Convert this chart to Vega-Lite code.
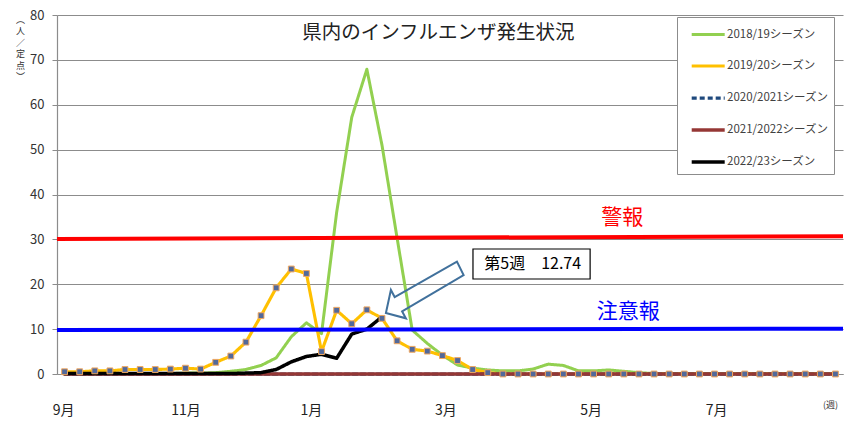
{
  "$schema": "https://vega.github.io/schema/vega-lite/v6.json",
  "width": 786,
  "height": 359,
  "autosize": {"type": "none"},
  "padding": {"left": 57, "top": 15, "right": 15, "bottom": 55},
  "background": "white",
  "datasets": {
    "series": [
      {"week": 1, "2018/19シーズン": 0.1, "2019/20シーズン": 0.5, "2020/2021シーズン": 0, "2021/2022シーズン": 0, "2022/23シーズン": 0.1},
      {"week": 2, "2018/19シーズン": 0.1, "2019/20シーズン": 0.5, "2020/2021シーズン": 0, "2021/2022シーズン": 0, "2022/23シーズン": 0.1},
      {"week": 3, "2018/19シーズン": 0.1, "2019/20シーズン": 0.7, "2020/2021シーズン": 0, "2021/2022シーズン": 0, "2022/23シーズン": 0.1},
      {"week": 4, "2018/19シーズン": 0.1, "2019/20シーズン": 0.7, "2020/2021シーズン": 0, "2021/2022シーズン": 0, "2022/23シーズン": 0.1},
      {"week": 5, "2018/19シーズン": 0.1, "2019/20シーズン": 1.0, "2020/2021シーズン": 0, "2021/2022シーズン": 0, "2022/23シーズン": 0.1},
      {"week": 6, "2018/19シーズン": 0.1, "2019/20シーズン": 1.0, "2020/2021シーズン": 0, "2021/2022シーズン": 0, "2022/23シーズン": 0.1},
      {"week": 7, "2018/19シーズン": 0.1, "2019/20シーズン": 1.0, "2020/2021シーズン": 0, "2021/2022シーズン": 0, "2022/23シーズン": 0.1},
      {"week": 8, "2018/19シーズン": 0.1, "2019/20シーズン": 1.1, "2020/2021シーズン": 0, "2021/2022シーズン": 0, "2022/23シーズン": 0.1},
      {"week": 9, "2018/19シーズン": 0.2, "2019/20シーズン": 1.3, "2020/2021シーズン": 0, "2021/2022シーズン": 0, "2022/23シーズン": 0.1},
      {"week": 10, "2018/19シーズン": 0.2, "2019/20シーズン": 1.1, "2020/2021シーズン": 0, "2021/2022シーズン": 0, "2022/23シーズン": 0.1},
      {"week": 11, "2018/19シーズン": 0.3, "2019/20シーズン": 2.6, "2020/2021シーズン": 0, "2021/2022シーズン": 0, "2022/23シーズン": 0.1},
      {"week": 12, "2018/19シーズン": 0.6, "2019/20シーズン": 4.0, "2020/2021シーズン": 0, "2021/2022シーズン": 0, "2022/23シーズン": 0.1},
      {"week": 13, "2018/19シーズン": 1.0, "2019/20シーズン": 7.1, "2020/2021シーズン": 0, "2021/2022シーズン": 0, "2022/23シーズン": 0.2},
      {"week": 14, "2018/19シーズン": 1.9, "2019/20シーズン": 13.0, "2020/2021シーズン": 0, "2021/2022シーズン": 0, "2022/23シーズン": 0.3},
      {"week": 15, "2018/19シーズン": 3.6, "2019/20シーズン": 19.2, "2020/2021シーズン": 0, "2021/2022シーズン": 0, "2022/23シーズン": 1.0},
      {"week": 16, "2018/19シーズン": 8.3, "2019/20シーズン": 23.4, "2020/2021シーズン": 0, "2021/2022シーズン": 0, "2022/23シーズン": 2.7},
      {"week": 17, "2018/19シーズン": 11.4, "2019/20シーズン": 22.4, "2020/2021シーズン": 0, "2021/2022シーズン": 0, "2022/23シーズン": 3.9},
      {"week": 18, "2018/19シーズン": 9.0, "2019/20シーズン": 5.0, "2020/2021シーズン": 0, "2021/2022シーズン": 0, "2022/23シーズン": 4.4},
      {"week": 19, "2018/19シーズン": 36.0, "2019/20シーズン": 14.2, "2020/2021シーズン": 0, "2021/2022シーズン": 0, "2022/23シーズン": 3.5},
      {"week": 20, "2018/19シーズン": 57.2, "2019/20シーズン": 11.2, "2020/2021シーズン": 0, "2021/2022シーズン": 0, "2022/23シーズン": 8.9},
      {"week": 21, "2018/19シーズン": 67.9, "2019/20シーズン": 14.3, "2020/2021シーズン": 0, "2021/2022シーズン": 0, "2022/23シーズン": 10.0},
      {"week": 22, "2018/19シーズン": 51.0, "2019/20シーズン": 12.4, "2020/2021シーズン": 0, "2021/2022シーズン": 0, "2022/23シーズン": 12.74},
      {"week": 23, "2018/19シーズン": 30.3, "2019/20シーズン": 7.4, "2020/2021シーズン": 0, "2021/2022シーズン": 0, "2022/23シーズン": null},
      {"week": 24, "2018/19シーズン": 9.8, "2019/20シーズン": 5.5, "2020/2021シーズン": 0, "2021/2022シーズン": 0, "2022/23シーズン": null},
      {"week": 25, "2018/19シーズン": 6.8, "2019/20シーズン": 5.1, "2020/2021シーズン": 0, "2021/2022シーズン": 0, "2022/23シーズン": null},
      {"week": 26, "2018/19シーズン": 4.2, "2019/20シーズン": 4.1, "2020/2021シーズン": 0, "2021/2022シーズン": 0, "2022/23シーズン": null},
      {"week": 27, "2018/19シーズン": 2.0, "2019/20シーズン": 3.0, "2020/2021シーズン": 0, "2021/2022シーズン": 0, "2022/23シーズン": null},
      {"week": 28, "2018/19シーズン": 1.3, "2019/20シーズン": 1.0, "2020/2021シーズン": 0, "2021/2022シーズン": 0, "2022/23シーズン": null},
      {"week": 29, "2018/19シーズン": 0.9, "2019/20シーズン": 0.3, "2020/2021シーズン": 0, "2021/2022シーズン": 0, "2022/23シーズン": null},
      {"week": 30, "2018/19シーズン": 0.7, "2019/20シーズン": 0, "2020/2021シーズン": 0, "2021/2022シーズン": 0, "2022/23シーズン": null},
      {"week": 31, "2018/19シーズン": 0.7, "2019/20シーズン": 0, "2020/2021シーズン": 0, "2021/2022シーズン": 0, "2022/23シーズン": null},
      {"week": 32, "2018/19シーズン": 1.1, "2019/20シーズン": 0, "2020/2021シーズン": 0, "2021/2022シーズン": 0, "2022/23シーズン": null},
      {"week": 33, "2018/19シーズン": 2.2, "2019/20シーズン": 0, "2020/2021シーズン": 0, "2021/2022シーズン": 0, "2022/23シーズン": null},
      {"week": 34, "2018/19シーズン": 1.9, "2019/20シーズン": 0, "2020/2021シーズン": 0, "2021/2022シーズン": 0, "2022/23シーズン": null},
      {"week": 35, "2018/19シーズン": 0.7, "2019/20シーズン": 0, "2020/2021シーズン": 0, "2021/2022シーズン": 0, "2022/23シーズン": null},
      {"week": 36, "2018/19シーズン": 0.7, "2019/20シーズン": 0, "2020/2021シーズン": 0, "2021/2022シーズン": 0, "2022/23シーズン": null},
      {"week": 37, "2018/19シーズン": 0.9, "2019/20シーズン": 0, "2020/2021シーズン": 0, "2021/2022シーズン": 0, "2022/23シーズン": null},
      {"week": 38, "2018/19シーズン": 0.6, "2019/20シーズン": 0, "2020/2021シーズン": 0, "2021/2022シーズン": 0, "2022/23シーズン": null},
      {"week": 39, "2018/19シーズン": 0.3, "2019/20シーズン": 0, "2020/2021シーズン": 0, "2021/2022シーズン": 0, "2022/23シーズン": null},
      {"week": 40, "2018/19シーズン": 0.1, "2019/20シーズン": 0, "2020/2021シーズン": 0, "2021/2022シーズン": 0, "2022/23シーズン": null},
      {"week": 41, "2018/19シーズン": 0.1, "2019/20シーズン": 0, "2020/2021シーズン": 0, "2021/2022シーズン": 0, "2022/23シーズン": null},
      {"week": 42, "2018/19シーズン": 0.1, "2019/20シーズン": 0, "2020/2021シーズン": 0, "2021/2022シーズン": 0, "2022/23シーズン": null},
      {"week": 43, "2018/19シーズン": 0.1, "2019/20シーズン": 0, "2020/2021シーズン": 0, "2021/2022シーズン": 0, "2022/23シーズン": null},
      {"week": 44, "2018/19シーズン": 0.1, "2019/20シーズン": 0, "2020/2021シーズン": 0, "2021/2022シーズン": 0, "2022/23シーズン": null},
      {"week": 45, "2018/19シーズン": 0.1, "2019/20シーズン": 0, "2020/2021シーズン": 0, "2021/2022シーズン": 0, "2022/23シーズン": null},
      {"week": 46, "2018/19シーズン": 0.1, "2019/20シーズン": 0, "2020/2021シーズン": 0, "2021/2022シーズン": 0, "2022/23シーズン": null},
      {"week": 47, "2018/19シーズン": 0.1, "2019/20シーズン": 0, "2020/2021シーズン": 0, "2021/2022シーズン": 0, "2022/23シーズン": null},
      {"week": 48, "2018/19シーズン": 0.1, "2019/20シーズン": 0, "2020/2021シーズン": 0, "2021/2022シーズン": 0, "2022/23シーズン": null},
      {"week": 49, "2018/19シーズン": 0.1, "2019/20シーズン": 0, "2020/2021シーズン": 0, "2021/2022シーズン": 0, "2022/23シーズン": null},
      {"week": 50, "2018/19シーズン": 0.1, "2019/20シーズン": 0, "2020/2021シーズン": 0, "2021/2022シーズン": 0, "2022/23シーズン": null},
      {"week": 51, "2018/19シーズン": 0.1, "2019/20シーズン": 0, "2020/2021シーズン": 0, "2021/2022シーズン": 0, "2022/23シーズン": null},
      {"week": 52, "2018/19シーズン": 0.1, "2019/20シーズン": 0, "2020/2021シーズン": 0, "2021/2022シーズン": 0, "2022/23シーズン": null}
    ],
    "levels": [
      {"name": "警報", "week": 0.5, "week2": 52.5, "value": 30.1, "value2": 30.7},
      {"name": "注意報", "week": 0.5, "week2": 52.5, "value": 9.8, "value2": 10.1}
    ],
    "notes": [
      {"kind": "警報", "week": 37.9, "value": 34.7, "label": "警報"},
      {"kind": "注意報", "week": 38.3, "value": 13.9, "label": "注意報"},
      {"kind": "callout", "week": 31.97, "value": 24.5, "label": "第5週　12.74"},
      {"kind": "title", "week": 25.73, "value": 76.1, "label": "県内のインフルエンザ発生状況"}
    ],
    "arrow": [
      {"i": 1, "week": 22.26, "value": 13.6},
      {"i": 2, "week": 22.59, "value": 18.72},
      {"i": 3, "week": 22.84, "value": 17.14},
      {"i": 4, "week": 26.96, "value": 25.03},
      {"i": 5, "week": 27.40, "value": 22.06},
      {"i": 6, "week": 23.33, "value": 13.97},
      {"i": 7, "week": 23.58, "value": 12.41}
    ],
    "box": [
      {"week": 28.02, "week2": 35.77, "value": 27.86, "value2": 21.17}
    ]
  },
  "config": {
    "view": {"stroke": null},
    "font": "Noto Sans CJK JP",
    "axis": {"labelFont": "Noto Sans CJK JP", "titleFont": "Noto Sans CJK JP"}
  },
  "encoding": {
    "x": {
      "field": "week", "type": "quantitative",
      "scale": {"domain": [0.5, 52.5], "nice": false, "zero": false},
      "axis": {
        "values": [0.9, 9.0, 17.3, 26.2, 35.8, 44.1],
        "labelExpr": "datum.value < 5 ? '9月' : datum.value < 13 ? '11月' : datum.value < 20 ? '1月' : datum.value < 30 ? '3月' : datum.value < 40 ? '5月' : '7月'",
        "ticks": false, "grid": false, "domain": true, "domainColor": "#8c8c8c", "domainWidth": 1.2,
        "labelFontSize": 14, "labelPadding": 29, "labelColor": "#222222", "labelFlush": false, "labelOverlap": false,
        "title": "(週)", "titleX": 773, "titleY": 30, "titleFontSize": 9, "titleFontWeight": "normal",
        "titleAlign": "center", "titleBaseline": "middle", "titleColor": "#333333"
      }
    },
    "y": {
      "field": "value", "type": "quantitative",
      "scale": {"domain": [0, 80], "nice": false},
      "axis": {
        "values": [0, 10, 20, 30, 40, 50, 60, 70, 80],
        "grid": true, "gridColor": "#8c8c8c", "gridWidth": 1.2,
        "domain": true, "domainColor": "#8c8c8c", "domainWidth": 1.2,
        "ticks": true, "tickColor": "#8c8c8c", "tickSize": 5,
        "labelFontSize": 13, "labelColor": "#333333", "labelPadding": 8,
        "title": ["︵", "人", "／", "定", "点", "︶"],
        "titleAngle": 0, "titleX": -37, "titleY": 0, "titleAlign": "center", "titleBaseline": "top",
        "titleFontSize": 9, "titleFontWeight": "normal", "titleLineHeight": 11.5, "titleColor": "#333333"
      }
    }
  },
  "layer": [
    {
      "data": {"name": "series"},
      "transform": [
        {"fold": ["2018/19シーズン", "2019/20シーズン", "2020/2021シーズン", "2021/2022シーズン", "2022/23シーズン"], "as": ["season", "value"]},
        {"filter": "datum.value != null"}
      ],
      "mark": {"type": "line", "strokeJoin": "round", "strokeCap": "round"},
      "encoding": {
        "color": {
          "field": "season", "type": "nominal", "title": null,
          "scale": {
            "domain": ["2018/19シーズン", "2019/20シーズン", "2020/2021シーズン", "2021/2022シーズン", "2022/23シーズン"],
            "range": ["#92D050", "#FFC000", "#1F497D", "#953735", "#000000"]
          },
          "legend": {
            "orient": "none", "legendX": 620, "legendY": 2, "padding": 5,
            "fillColor": "#ffffff", "strokeColor": "#8c8c8c",
            "symbolType": "M-0.3,0L2.7,0", "symbolSize": 484, "rowPadding": 12,
            "labelFontSize": 11.5, "labelColor": "#404040", "labelOffset": 19, "labelLimit": 220,
            "labelFont": "Noto Sans CJK JP"
          }
        },
        "strokeDash": {
          "field": "season", "type": "nominal", "title": null,
          "scale": {
            "domain": ["2018/19シーズン", "2019/20シーズン", "2020/2021シーズン", "2021/2022シーズン", "2022/23シーズン"],
            "range": [[1, 0], [1, 0], [5, 3], [1, 0], [1, 0]]
          }
        },
        "strokeWidth": {
          "field": "season", "type": "nominal", "title": null,
          "scale": {
            "domain": ["2018/19シーズン", "2019/20シーズン", "2020/2021シーズン", "2021/2022シーズン", "2022/23シーズン"],
            "range": [3, 3.5, 2.5, 3, 5]
          }
        }
      }
    },
    {
      "data": {"name": "series"},
      "transform": [
        {"fold": ["2019/20シーズン"], "as": ["season", "value"]}
      ],
      "mark": {"type": "point", "shape": "square", "filled": true, "size": 34, "color": "#52699A", "stroke": "#F0A860", "strokeWidth": 1, "opacity": 1}
    },
    {
      "data": {"name": "levels"},
      "transform": [{"filter": "datum.name == '警報'"}],
      "mark": {"type": "rule", "color": "#FF0000", "strokeWidth": 4},
      "encoding": {"x2": {"field": "week2"}, "y2": {"field": "value2"}}
    },
    {
      "data": {"name": "levels"},
      "transform": [{"filter": "datum.name == '注意報'"}],
      "mark": {"type": "rule", "color": "#0000FF", "strokeWidth": 4},
      "encoding": {"x2": {"field": "week2"}, "y2": {"field": "value2"}}
    },
    {
      "data": {"name": "notes"},
      "transform": [{"filter": "datum.kind == '警報'"}],
      "mark": {"type": "text", "color": "#FF0000", "fontSize": 21, "align": "center", "baseline": "middle"},
      "encoding": {"text": {"field": "label"}}
    },
    {
      "data": {"name": "notes"},
      "transform": [{"filter": "datum.kind == '注意報'"}],
      "mark": {"type": "text", "color": "#0000FF", "fontSize": 21, "align": "center", "baseline": "middle"},
      "encoding": {"text": {"field": "label"}}
    },
    {
      "data": {"name": "arrow"},
      "mark": {"type": "line", "interpolate": "linear-closed", "color": "#41719C", "strokeWidth": 2},
      "encoding": {"order": {"field": "i", "type": "quantitative"}}
    },
    {
      "data": {"name": "box"},
      "mark": {"type": "rect", "fill": "#ffffff", "stroke": "#000000", "strokeWidth": 1.2},
      "encoding": {"x2": {"field": "week2"}, "y2": {"field": "value2"}}
    },
    {
      "data": {"name": "notes"},
      "transform": [{"filter": "datum.kind == 'callout'"}],
      "mark": {"type": "text", "color": "#000000", "fontSize": 16, "align": "center", "baseline": "middle"},
      "encoding": {"text": {"field": "label"}}
    },
    {
      "data": {"name": "notes"},
      "transform": [{"filter": "datum.kind == 'title'"}],
      "mark": {"type": "text", "color": "#222222", "fontSize": 19.5, "align": "center", "baseline": "middle"},
      "encoding": {"text": {"field": "label"}}
    }
  ]
}
